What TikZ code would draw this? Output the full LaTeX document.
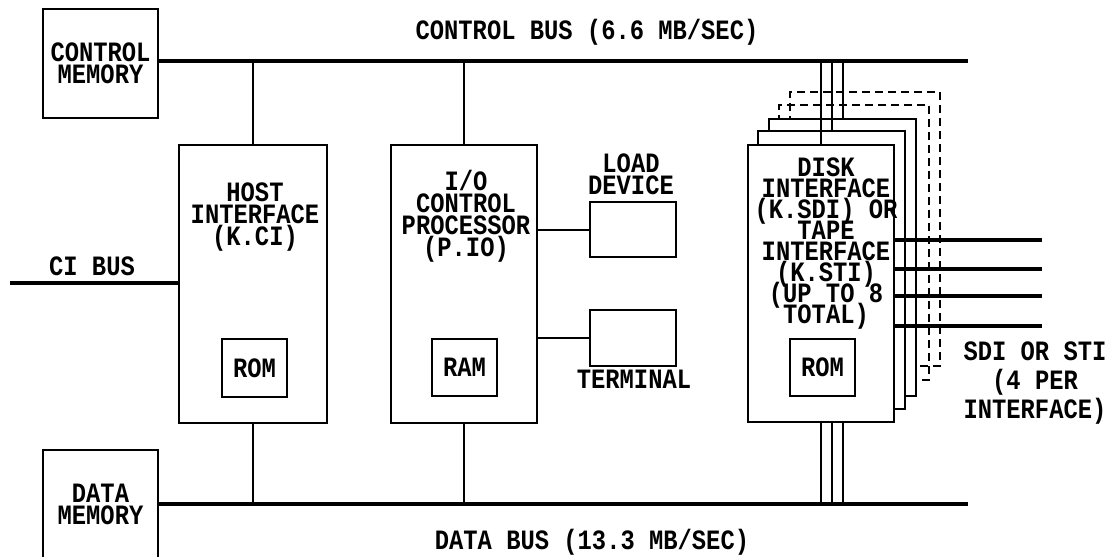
\documentclass[tikz,border=0pt]{standalone}
\usepackage{fontspec}
\newfontfamily\dgmfont{Liberation Mono}[FakeStretch=0.85]
\usetikzlibrary{backgrounds}
\newcommand\dgmsize[1]{\fontsize{28}{#1}\selectfont\lineskiplimit=-50pt\relax}

\begin{document}
\begin{tikzpicture}[
  x=1pt, y=-1pt,
  font=\dgmfont\bfseries\dgmsize{22},
  unit/.style={draw, line width=2pt, fill=white, inner sep=0pt, align=center},
  ghost/.style={draw, line width=2pt, inner sep=0pt, dash pattern=on 8pt off 5pt},
  txt/.style={inner sep=0pt, align=center},
  wire/.style={line width=2pt},
  bus/.style={line width=4.5pt}
]
\useasboundingbox (0,0) rectangle (1109,557);

% memories
\node[unit, minimum width=115, minimum height=109] (ctlmem) at (100.5,63.5) {CONTROL\\MEMORY};
\node[unit, minimum width=115, minimum height=109] (datmem) at (100.5,504) {DATA\\MEMORY};

% bus ends
\coordinate (cbus) at (968,61);
\coordinate (dbus) at (968,504);
\coordinate (cibus) at (10,283);

% host interface
\node[unit, minimum width=148, minimum height=278] (host) at (253,284) {};
\node[txt, anchor=north] (hosttxt) at (255,183) {HOST\\INTERFACE\\(K.CI)};
\node[unit, minimum width=65, minimum height=58] (hostrom) at (254.5,368) {ROM};

% i/o control processor
\node[unit, minimum width=146, minimum height=278] (iocp) at (464,284) {};
\node[txt, anchor=north] (iotxt) at (466,170) {I/O\\CONTROL\\PROCESSOR\\(P.IO)};
\node[unit, minimum width=65, minimum height=57] (ram) at (464.5,367.5) {RAM};
\node[unit, minimum width=86, minimum height=55] (load) at (633,229.5) {};
\node[txt, anchor=south] (loadtxt) at (631,195) {LOAD\\DEVICE};
\node[unit, minimum width=86, minimum height=56] (term) at (633,338) {};
\node[txt, anchor=base] (termtxt) at (634,388) {TERMINAL};

% disk / tape interfaces, back to front
\node[ghost, minimum width=150, minimum height=274] (disk5) at (865,229) {};
\node[ghost, minimum width=150, minimum height=275] (disk4) at (854,242.5) {};
\node[unit, minimum width=147, minimum height=277] (disk3) at (842.5,257.5) {};
\node[unit, minimum width=147, minimum height=278] (disk2) at (831.5,270) {};
\node[unit, minimum width=146, minimum height=277] (disk1) at (821,283.5) {};
\node[txt, anchor=north, font=\dgmfont\bfseries\dgmsize{21}] (disktxt) at (826,158) {DISK\\INTERFACE\\(K.SDI) OR\\TAPE\\INTERFACE\\(K.STI)\\(UP TO 8\\TOTAL)};
\node[unit, minimum width=65, minimum height=57] (diskrom) at (822.5,367.5) {ROM};

% buses
\draw[bus] (ctlmem.east |- cbus) -- (cbus);
\draw[bus] (datmem.east |- dbus) -- (dbus);
\draw[bus] (cibus) -- (cibus -| host.west);
\node[txt, anchor=base] (cbustxt) at (587,39) {CONTROL BUS (6.6 MB/SEC)};
\node[txt, anchor=base] (dbustxt) at (592,549) {DATA BUS (13.3 MB/SEC)};
\node[txt, anchor=base] (citxt) at (92,275) {CI BUS};

% taps
\draw[wire] (host.north) -- (host.north |- cbus);
\draw[wire] (host.south) -- (host.south |- dbus);
\draw[wire] (iocp.north) -- (iocp.north |- cbus);
\draw[wire] (iocp.south) -- (iocp.south |- dbus);
\draw[wire] (load.west) -- (load.west -| iocp.east);
\draw[wire] (term.west) -- (term.west -| iocp.east);
\foreach \d in {disk1,disk2,disk3}
  \draw[wire] (\d.north) -- (\d.north |- cbus);
\begin{scope}[on background layer]
\foreach \d in {disk1,disk2,disk3}
  \draw[wire] (\d.south) -- (\d.south |- dbus);
\end{scope}

% SDI / STI lines
\foreach \y [count=\i] in {240,269,296,326}
  \coordinate (sdi\i) at (1042,\y);
\foreach \i in {1,...,4}
  \draw[bus] (sdi\i -| disk1.east) -- (sdi\i);
\node[txt, anchor=north, font=\dgmfont\bfseries\dgmsize{29}] (sditxt) at (1035,342) {SDI OR STI\\(4 PER\\INTERFACE)};
\end{tikzpicture}
\end{document}
